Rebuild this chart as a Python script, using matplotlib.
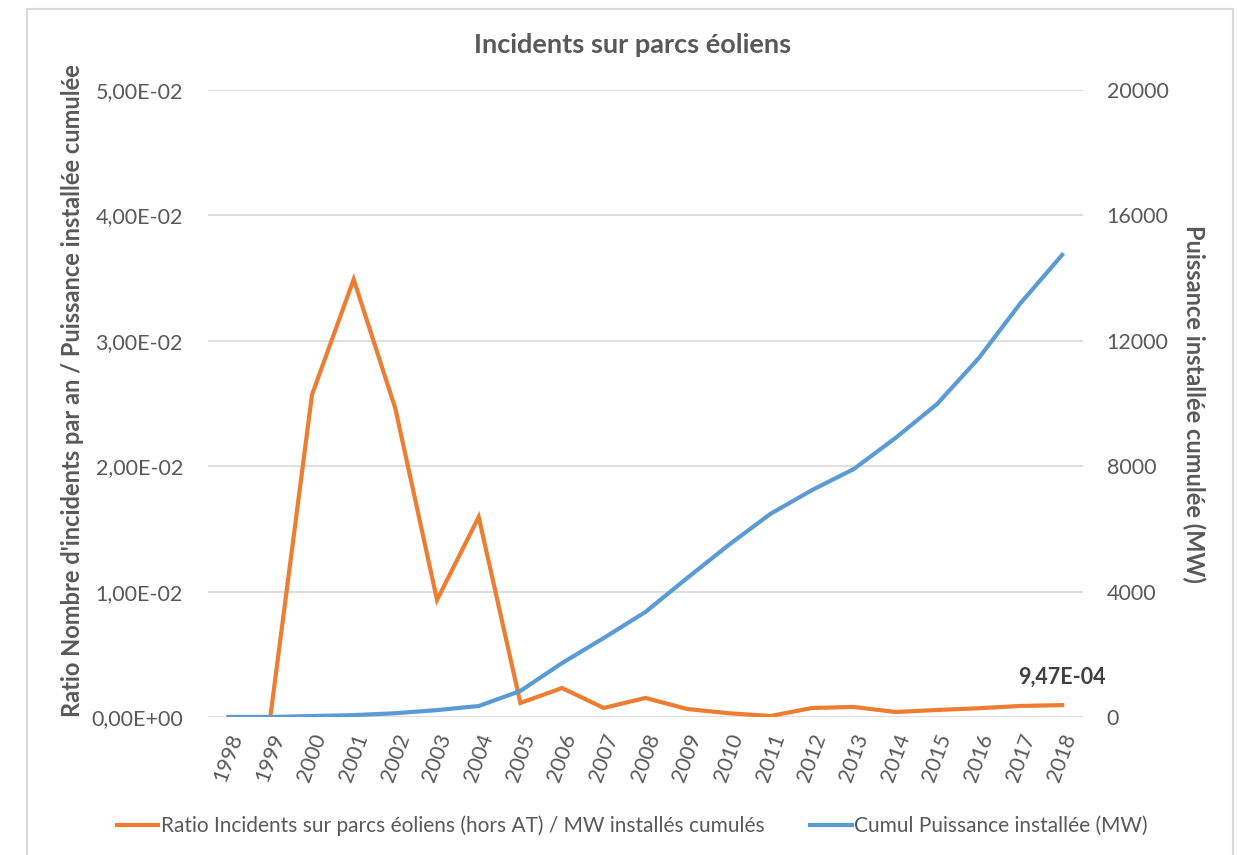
import matplotlib.pyplot as plt
from matplotlib.patches import Rectangle
from matplotlib.ticker import FuncFormatter

years = [str(y) for y in range(1998, 2019)]
ratio = [0.0, 0.0, 0.0257, 0.0349, 0.0246, 0.00933, 0.01595, 0.00112, 0.00231,
         0.00072, 0.00152, 0.00064, 0.0003, 0.00008, 0.00072, 0.0008, 0.0004,
         0.00056, 0.0007, 0.00088, 0.000947]
cumul_mw = [0, 0, 30, 60, 120, 220, 350, 830, 1720, 2520, 3350, 4430, 5490,
            6480, 7240, 7910, 8900, 9985, 11450, 13200, 14740]

ratio_label = "Ratio Incidents sur parcs éoliens (hors AT) / MW installés cumulés"
cumul_label = "Cumul Puissance installée (MW)"

plt.rcParams['font.family'] = ['Lato', 'DejaVu Sans']
grey = "#595959"
orange = "#ED7D31"
blue = "#5B9BD5"

fig = plt.figure(figsize=(12.37, 8.55), dpi=100)
ax = fig.add_axes([0.168, 0.1614, 0.7075, 0.7333])
ax2 = ax.twinx()

x = list(range(len(years)))
l1, = ax.plot(x, ratio, color=orange, lw=3, solid_joinstyle="miter", zorder=2)
l2, = ax2.plot(x, cumul_mw, color=blue, lw=3, zorder=3)

ax.set_xlim(-0.5, len(years) - 0.5)
ax.set_ylim(0, 0.05)
ax2.set_ylim(0, 20000)
ax.set_yticks([0, 0.01, 0.02, 0.03, 0.04, 0.05])
ax2.set_yticks([0, 4000, 8000, 12000, 16000, 20000])


def sci_fr(v, pos):
    m, e = f"{v:.2E}".split("E")
    return m.replace(".", ",") + "E" + e


ax.yaxis.set_major_formatter(FuncFormatter(sci_fr))
ax.set_xticks(x)
ax.set_xticklabels(years, rotation=70, ha="center", va="top")

ax.grid(axis="y", color="#d9d9d9", lw=1.2)
ax.set_axisbelow(True)
for a in (ax, ax2):
    for s in a.spines.values():
        s.set_visible(False)
    a.tick_params(length=0, colors=grey, labelsize=15.5)
ax.tick_params(axis="y", pad=18)
ax.tick_params(axis="x", pad=10)
ax2.tick_params(axis="y", pad=17)
ax.set_zorder(ax2.get_zorder() - 1)
ax2.patch.set_visible(False)

ax.set_ylabel("Ratio Nombre d'incidents par an / Puissance installée cumulée",
              fontsize=17, color=grey, fontweight="bold", va="center")
ax.yaxis.set_label_coords(-0.155, 0.521)
ax2.set_ylabel("Puissance installée cumulée (MW)", fontsize=17, color=grey,
               fontweight="bold", rotation=-90, va="center")
ax2.yaxis.set_label_coords(1.126, 0.5)

ax.annotate(sci_fr(ratio[-1], None), (x[-1], ratio[-1]),
            xytext=(0, 20), textcoords="offset points", ha="center", va="center",
            fontsize=15.5, fontweight="bold", color="#404040")

fig.text(0.511, 0.947, "Incidents sur parcs éoliens", ha="center", va="center",
         fontsize=19.5, fontweight="bold", color=grey)

fig.legend([l1, l2], [ratio_label, cumul_label], loc="center",
           bbox_to_anchor=(0.511, 0.034), ncol=2, frameon=False, fontsize=15,
           handlelength=2.0, handletextpad=0.1, columnspacing=2.2,
           labelcolor=grey)

fig.patches.append(Rectangle((0.0218, -0.01), 0.975, 0.9995, transform=fig.transFigure,
                             fill=False, edgecolor="#d9d9d9", lw=1.5))

fig.savefig("out.png", dpi=100)
